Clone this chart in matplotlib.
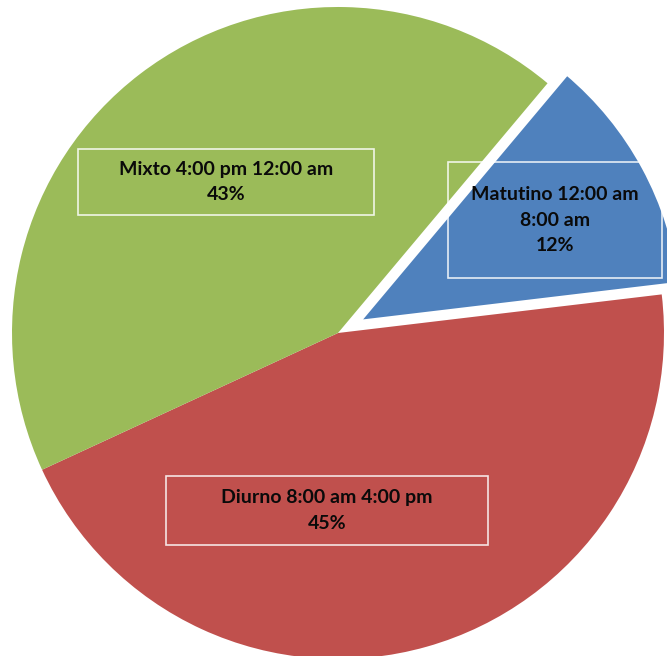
import matplotlib.pyplot as plt
from matplotlib.patches import Rectangle

# Turnos (shifts) and their share
labels = ["Matutino 12:00 am\n8:00 am", "Diurno 8:00 am 4:00 pm", "Mixto 4:00 pm 12:00 am"]
values = [12, 45, 43]
colors = ["#4F81BD", "#C0504D", "#9BBB59"]

W, H = 667, 656
R = 326
fig = plt.figure(figsize=(W / 100, H / 100), dpi=100)
ax = fig.add_axes([0, 0, 1, 1])

# explode is an absolute offset in data units here (pixels)
wedges, _ = ax.pie(values, colors=colors, startangle=50, counterclock=False,
                   explode=[22, 0, 0], radius=R, center=(338, 323),
                   wedgeprops=dict(linewidth=0))
# white outline only round the pulled-out slice
wedges[0].set_edgecolor("white")
wedges[0].set_linewidth(3.5)
wedges[0].set_zorder(3)

# label boxes (pixel coords: x0, y0 from bottom, w, h)
boxes = [(448, 656 - 278, 214, 116), (166, 656 - 545, 322, 69), (78, 656 - 215, 296, 66)]
for lab, v, (x0, y0, bw, bh) in zip(labels, values, boxes):
    ax.add_patch(Rectangle((x0, y0), bw, bh, fill=False, edgecolor="white",
                           linewidth=1.2, alpha=0.85, zorder=4))
    ax.text(x0 + bw / 2, y0 + bh / 2, f"{lab}\n{v}%", ha="center", va="center",
            fontsize=14, fontweight="bold", family="Lato", color="#0a0a0a",
            linespacing=1.6, zorder=5)

ax.set_xlim(0, W)
ax.set_ylim(0, H)
ax.set_aspect("equal")
ax.axis("off")

fig.savefig("out.png", dpi=100)
